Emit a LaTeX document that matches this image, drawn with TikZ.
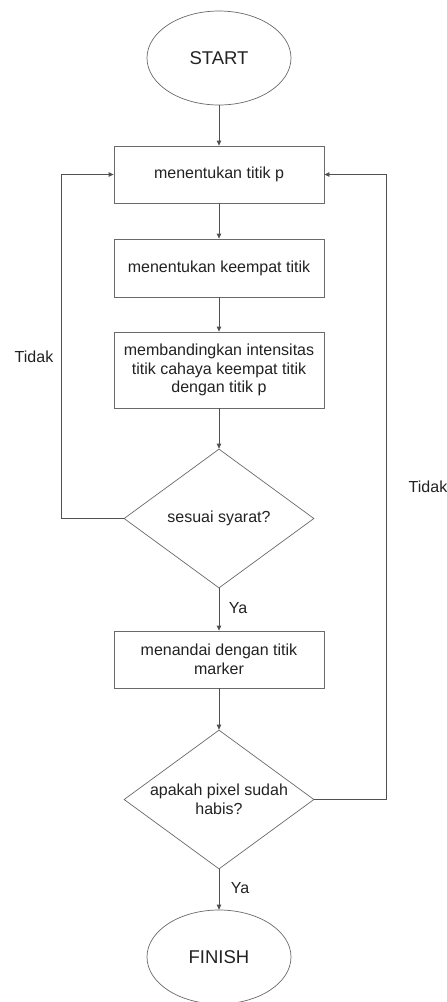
\documentclass[tikz,border=0pt]{standalone}
\usepackage{fontspec}
\setmainfont{Liberation Sans}
\usetikzlibrary{shapes.geometric,arrows.meta}
\definecolor{linec}{HTML}{505050}
\definecolor{boxc}{HTML}{6A6A6A}
\definecolor{txtc}{HTML}{222222}
\begin{document}
\begin{tikzpicture}[x=1pt,y=-1pt,
  every node/.style={text=txtc,font=\fontsize{16}{18.5}\selectfont},
  terminal/.style={ellipse,draw=boxc,line width=0.7pt,minimum width=144pt,minimum height=94pt,inner sep=0pt,font=\fontsize{18.5}{21}\selectfont},
  process/.style={rectangle,draw=boxc,line width=0.8pt,minimum width=210pt,inner sep=0pt,align=center},
  decision/.style={diamond,draw=boxc,line width=0.7pt,minimum width=190pt,minimum height=139pt,inner sep=0pt},
  dtext/.style={align=center,inner sep=0pt,text=txtc,font=\fontsize{16}{18.5}\selectfont},
  flow/.style={draw=linec,line width=0.8pt,-{Triangle[length=5pt,width=4.5pt]}},
  lbl/.style={inner sep=0pt}]
\useasboundingbox (0,0) rectangle (447,1002);
\fill[white] (0,0) rectangle (447,1002);

\node[terminal] (start) at (219,58) {START};
\node[process,minimum height=57pt] (b1) at (219,174.5) {menentukan titik p};
\node[process,minimum height=58pt] (b2) at (219,268) {menentukan keempat titik};
\node[process,minimum height=76pt] (b3) at (219,370) {membandingkan intensitas\\titik cahaya keempat titik\\dengan titik p};
\node[decision,label={[dtext]center:sesuai syarat?}] (d1) at (219,518.5) {};
\node[process,minimum height=57pt] (b4) at (219,659.5) {menandai dengan titik\\marker};
\node[decision,label={[dtext]center:{apakah pixel sudah\\habis?}}] (d2) at (219,799.5) {};
\node[terminal] (finish) at (219,957) {FINISH};

\coordinate (lc) at (61,518.5);
\coordinate (rc) at (386,799.5);

\draw[flow] (start) -- (b1);
\draw[flow] (b1) -- (b2);
\draw[flow] (b2) -- (b3);
\draw[flow] (b3) -- (d1);
\draw[flow] (d1) -- (b4);
\draw[flow] (b4) -- (d2);
\draw[flow] (d2) -- (finish);
\draw[flow] (d1.west) -- (lc) |- (b1.west);
\draw[flow] (d2.east) -- (rc) |- (b1.east);

\node[lbl] (t1) at (34,357) {Tidak};
\node[lbl] (t2) at (428,487) {Tidak};
\node[lbl] (y1) at (238,608) {Ya};
\node[lbl] (y2) at (240,888) {Ya};
\end{tikzpicture}
\end{document}
